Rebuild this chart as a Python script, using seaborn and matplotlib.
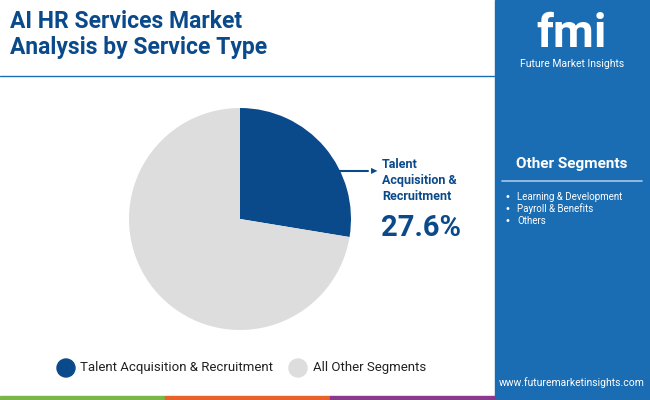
import matplotlib
matplotlib.use("Agg")
import matplotlib.pyplot as plt
import seaborn as sns
from matplotlib.patches import Rectangle, Ellipse

sns.set_theme(style="white")

# data
segments = ["Talent Acquisition & Recruitment", "All Other Segments"]
shares = [27.6, 72.4]
colors = ["#0b4a8a", "#dddddd"]
other_segments = ["Learning & Development", "Payroll & Benefits", "Others"]

W, H = 650, 400
fig = plt.figure(figsize=(6.5, 4), dpi=100)
fig.patch.set_facecolor("white")

def fx(x): return x / W
def fy(y): return 1 - y / H

# right panel
fig.patches.append(Rectangle((fx(495), 0), fx(155), 1, transform=fig.transFigure,
                             color="#1a6db3", zorder=0))
# bottom stripe
for x0, c in [(0, "#7ab648"), (165, "#e8632b"), (330, "#8a3a8c")]:
    fig.patches.append(Rectangle((fx(x0), 0), fx(165), 4 / H, transform=fig.transFigure,
                                 color=c, zorder=1))
# title underline
fig.lines.append(plt.Line2D([0, fx(495)], [fy(76), fy(76)], transform=fig.transFigure,
                            color="#1a6db3", lw=1))

fig.text(fx(10), fy(10), "AI HR Services Market\nAnalysis by Service Type", ha="left", va="top",
         fontsize=16.5, fontweight="bold", color="#0b4a8a", family="Roboto", linespacing=1.15)

# pie
ax = fig.add_axes([fx(240 - 111), fy(219 + 111), fx(222), 222 / H])
ax.pie(shares, colors=colors, startangle=90, counterclock=False,
       wedgeprops=dict(linewidth=0))
ax.set_xlim(-1, 1)
ax.set_ylim(-1, 1)
ax.axis("off")

# annotation
fig.lines.append(plt.Line2D([fx(338), fx(368)], [fy(171), fy(171)], transform=fig.transFigure,
                            color="#0b4a8a", lw=1.5))
fig.text(fx(374), fy(171), "▶", fontsize=6, color="#0b4a8a", ha="center", va="center")
fig.text(fx(382), fy(158), "Talent\nAcquisition &\nRecruitment", ha="left", va="top",
         fontsize=9, fontweight="bold", color="#0b4a8a", family="Roboto", linespacing=1.3)
fig.text(fx(381), fy(228), f"{shares[0]}%", ha="left", va="center",
         fontsize=21, fontweight="bold", color="#0b4a8a", family="Roboto")

# legend
for (cx, tx), name, c in zip([(66, 80), (298, 313)], segments, colors):
    fig.patches.append(Ellipse((fx(cx), fy(368)), fx(18), 18 / H, transform=fig.transFigure,
                               color=c))
    fig.text(fx(tx), fy(368), name, ha="left", va="center", fontsize=9.5,
             color="#222222", family="Roboto")

# side panel text
fig.text(fx(572), fy(34), "fmi", ha="center", va="center", fontsize=34, fontweight="bold",
         color="white", family="Roboto")
fig.text(fx(572), fy(64), "Future Market Insights", ha="center", va="center", fontsize=7.5,
         color="white", family="Roboto")
fig.text(fx(572), fy(164), "Other Segments", ha="center", va="center", fontsize=11,
         fontweight="bold", color="white", family="Roboto")
fig.lines.append(plt.Line2D([fx(502), fx(642)], [fy(181), fy(181)], transform=fig.transFigure,
                            color="#a8c8e8", lw=1.2))
for i, s in enumerate(other_segments):
    y = fy(197 + i * 12)
    fig.text(fx(505), y, "•", ha="left", va="center", fontsize=7, color="white")
    fig.text(fx(517), y, s, ha="left", va="center", fontsize=7, color="white", family="Roboto")
fig.text(fx(572), fy(383), "www.futuremarketinsights.com", ha="center", va="center",
         fontsize=7.5, color="white", family="Roboto")

fig.savefig("out.png", dpi=100)
